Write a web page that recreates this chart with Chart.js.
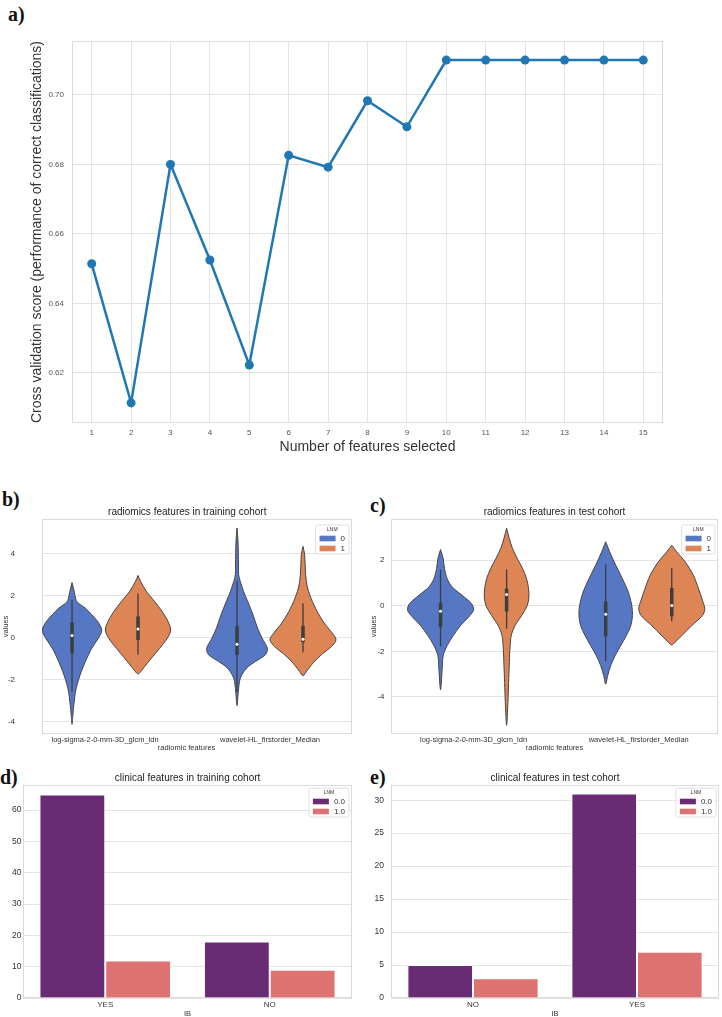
<!DOCTYPE html>
<html>
<head>
<meta charset="utf-8">
<title>Feature selection and feature distributions</title>
<script src="https://cdn.jsdelivr.net/npm/chart.js@4.4.1/dist/chart.umd.min.js"></script>
<style>
  html, body { margin: 0; padding: 0; background: #fff; overflow: hidden; }
  body { position: relative; width: 722px; height: 1017px; }
  canvas { position: absolute; }
  .tag { position: absolute; font: bold 20px/20px "Liberation Serif", "DejaVu Serif", serif; color: #111; }
</style>
</head>
<body>
<div class="tag" style="left:8px;top:4px">a)</div>
<div class="tag" style="left:2px;top:489px">b)</div>
<div class="tag" style="left:370px;top:495px">c)</div>
<div class="tag" style="left:0px;top:767px">d)</div>
<div class="tag" style="left:370px;top:767px">e)</div>

<canvas id="rfe" width="722" height="470" style="left:0;top:0"></canvas>
<canvas id="violinTrain" width="361" height="260" style="left:0;top:500px"></canvas>
<canvas id="violinTest" width="361" height="260" style="left:361px;top:500px"></canvas>
<canvas id="barTrain" width="361" height="255" style="left:0;top:770px"></canvas>
<canvas id="barTest" width="361" height="255" style="left:361px;top:770px"></canvas>

<script>
// a) recursive feature elimination curve
const featureCounts = ['1', '2', '3', '4', '5', '6', '7', '8', '9', '10', '11', '12', '13', '14', '15'];
const cvScores = [0.6514, 0.6114, 0.6800, 0.6525, 0.6223, 0.6826, 0.6792, 0.6983, 0.6908,
  0.7100, 0.7100, 0.7100, 0.7100, 0.7100, 0.7100];
const cvTicks = [0.62, 0.64, 0.66, 0.68, 0.70];

// b) c) violins: outline as [value, half width in category units], top to bottom
const radiomicFeatures = ['log-sigma-2-0-mm-3D_glcm_ldn', 'wavelet-HL_firstorder_Median'];
const lnmGroups = ['0', '1'];

const trainLdn0 = [[2.61, 0], [2.3, 0.010], [2.0, 0.018], [1.7, 0.030], [1.4, 0.080], [1.1, 0.118],
  [0.8, 0.152], [0.5, 0.175], [0.3, 0.180], [0.05, 0.166], [-0.3, 0.137], [-0.6, 0.113], [-1.0, 0.089],
  [-1.4, 0.067], [-1.8, 0.048], [-2.2, 0.032], [-2.6, 0.020], [-3.0, 0.014], [-3.4, 0.008], [-3.8, 0.004], [-4.12, 0]];
const trainLdn1 = [[2.95, 0], [2.66, 0.016], [2.19, 0.051], [1.71, 0.101], [1.24, 0.146], [0.76, 0.182],
  [0.36, 0.198], [-0.03, 0.178], [-0.51, 0.131], [-0.98, 0.081], [-1.38, 0.040], [-1.62, 0.016], [-1.73, 0]];
const trainMed0 = [[5.2, 0], [4.6, 0.006], [4.0, 0.008], [3.4, 0.009], [2.98, 0.010], [2.66, 0.020],
  [2.19, 0.040], [1.71, 0.065], [1.08, 0.097], [0.44, 0.125], [-0.03, 0.152], [-0.51, 0.184], [-0.82, 0.172],
  [-1.14, 0.111], [-1.46, 0.057], [-1.93, 0.020], [-2.57, 0.008], [-3.23, 0]];
const trainMed1 = [[4.33, 0], [3.93, 0.010], [2.98, 0.016], [2.35, 0.028], [1.71, 0.057], [1.08, 0.097],
  [0.6, 0.137], [0.21, 0.178], [-0.11, 0.200], [-0.43, 0.172], [-0.82, 0.111], [-1.3, 0.051], [-1.62, 0.020], [-1.81, 0]];

const testLdn0 = [[2.47, 0], [2.07, 0.016], [1.63, 0.024], [1.19, 0.040], [0.82, 0.071], [0.46, 0.131],
  [0.09, 0.188], [-0.18, 0.200], [-0.43, 0.178], [-0.87, 0.121], [-1.31, 0.077], [-1.75, 0.040],
  [-2.19, 0.016], [-2.78, 0.010], [-3.69, 0]];
const testLdn1 = [[3.4, 0], [2.96, 0.016], [2.51, 0.036], [2.07, 0.065], [1.63, 0.097], [1.19, 0.121],
  [0.75, 0.133], [0.38, 0.135], [0.01, 0.125], [-0.43, 0.091], [-0.87, 0.051], [-1.31, 0.028], [-1.9, 0.020],
  [-2.63, 0.016], [-3.37, 0.012], [-4.25, 0.008], [-5.25, 0]];
const testMed0 = [[2.81, 0], [2.37, 0.024], [1.78, 0.061], [1.19, 0.101], [0.6, 0.137], [0.01, 0.158],
  [-0.43, 0.162], [-0.87, 0.152], [-1.31, 0.125], [-1.75, 0.091], [-2.19, 0.057], [-2.63, 0.030],
  [-3.07, 0.012], [-3.44, 0]];
const testMed1 = [[2.66, 0], [2.37, 0.030], [1.93, 0.081], [1.34, 0.131], [0.75, 0.162], [0.24, 0.186],
  [-0.13, 0.200], [-0.43, 0.186], [-0.87, 0.121], [-1.31, 0.061], [-1.6, 0.020], [-1.72, 0]];

// inner box: [lower whisker, q1, median, q3, upper whisker]
const trainBoxes = [[-2.57, -0.75, 0.1, 0.73, 1.79], [-0.82, -0.11, 0.41, 1.0, 2.09],
  [-2.6, -0.82, -0.32, 0.55, 2.7], [-0.7, -0.22, -0.08, 0.56, 1.63]];
const testBoxes = [[-1.79, -0.94, -0.24, 0.13, 1.59], [-1.01, -0.25, 0.49, 0.75, 1.6],
  [-2.44, -1.34, -0.37, 0.19, 1.81], [-0.69, -0.46, 0.01, 0.78, 1.66]];
const trainValueTicks = [-4, -2, 0, 2, 4];
const testValueTicks = [-4, -2, 0, 2];

// d) e) counts of IB by LNM
const lnmLevels = ['0.0', '1.0'];
const trainIB = ['YES', 'NO'];
const trainLnm0 = [65, 18];
const trainLnm1 = [12, 9];
const testIB = ['NO', 'YES'];
const testLnm0 = [5, 31];
const testLnm1 = [3, 7];
const trainCountTicks = [0, 10, 20, 30, 40, 50, 60];
const testCountTicks = [0, 5, 10, 15, 20, 25, 30];

const F = '"Liberation Sans", Arial, sans-serif';
const GRID = '#e4e4e4';
const LINE = '#1f77b4';
const BLUE = '#5577c4';
const ORANGE = '#dd8555';
const PURPLE = '#6a2b75';
const SALMON = '#de7270';
const NB = n => '\u00a0'.repeat(n);   // shifts a centred title a little to the left

Chart.defaults.font.family = F;
Chart.defaults.animation = false;
Chart.defaults.plugins.legend.display = false;
Chart.defaults.plugins.tooltip.enabled = false;

// light grey box round the plot, like seaborn whitegrid spines
const frame = {
  id: 'frame',
  beforeDatasetsDraw(chart) {
    const { ctx, chartArea: a } = chart;
    ctx.save();
    ctx.strokeStyle = '#dadada';
    ctx.lineWidth = 1;
    ctx.strokeRect(Math.round(a.left) + 0.5, Math.round(a.top) + 0.5, Math.round(a.width) - 1, Math.round(a.height) - 1);
    ctx.restore();
  }
};

// small "LNM" legend in the top right corner
const lnmLegend = {
  id: 'lnmLegend',
  afterDraw(chart, args, opts) {
    if (!opts.names) return;
    const { ctx, chartArea } = chart;
    ctx.save();
    ctx.font = '8px ' + F;
    const lw = Math.max(...opts.names.map(t => ctx.measureText(t).width));
    const w = 4 + 16 + 5 + lw + 4, h = 29;
    const x = chartArea.right - 3 - w, y = chartArea.top + opts.top;
    ctx.fillStyle = 'rgba(255,255,255,0.85)';
    ctx.strokeStyle = '#d8d8d8';
    ctx.lineWidth = 0.8;
    ctx.beginPath();
    ctx.roundRect(x, y, w, h, 2);
    ctx.fill();
    ctx.stroke();
    ctx.fillStyle = '#333';
    ctx.textAlign = 'center';
    ctx.textBaseline = 'middle';
    ctx.font = '5px ' + F;
    ctx.fillText('LNM', x + w / 2, y + 4.5);
    ctx.font = '8px ' + F;
    ctx.textAlign = 'left';
    opts.names.forEach((t, i) => {
      const cy = y + 13.5 + i * 10;
      ctx.fillStyle = opts.fills[i];
      ctx.fillRect(x + 4, cy - 2.8, 16, 5.6);
      ctx.fillStyle = '#333';
      ctx.fillText(t, x + 25, cy);
    });
    ctx.restore();
  }
};
Chart.register(frame, lnmLegend);

// ---- a) ----
new Chart(document.getElementById('rfe'), {
  type: 'line',
  data: {
    labels: featureCounts,
    datasets: [{
      data: cvScores,
      borderColor: LINE,
      backgroundColor: LINE,
      borderWidth: 2.5,
      pointRadius: 4.5,
      pointBorderWidth: 0,
      pointBackgroundColor: LINE,
      tension: 0
    }]
  },
  options: {
    responsive: false,
    layout: { padding: { top: 41, right: 59, left: 0, bottom: 0 } },
    scales: {
      x: {
        offset: true,
        grid: { color: GRID, offset: false, drawTicks: false },
        border: { display: false },
        ticks: { color: '#555', font: { size: 8 }, padding: 5 },
        title: { display: true, text: 'Number of features selected', color: '#333', font: { size: 14 }, padding: { top: 0, bottom: 14.6 } },
        afterFit: s => { s.height = 47; }
      },
      y: {
        min: 0.6056,
        max: 0.7155,
        afterBuildTicks: s => { s.ticks = cvTicks.map(v => ({ value: v })); },
        grid: { color: GRID, drawTicks: false },
        border: { display: false },
        ticks: { color: '#555', font: { size: 8 }, padding: 8, callback: v => v.toFixed(2) },
        title: {
          display: true,
          text: 'Cross validation score (performance of correct classifications)',
          color: '#333', font: { size: 14 }, padding: { top: 28.6, bottom: 0 }
        },
        afterFit: s => { s.width = 72; }
      }
    }
  }
});

// ---- b) c) ----
function outline(profile, center) {
  const right = profile.map(([v, w]) => ({ x: center + w, y: v }));
  const left = profile.slice().reverse().map(([v, w]) => ({ x: center - w, y: v }));
  return right.concat(left.slice(1));
}

function violinDatasets(profiles, boxes) {
  const sets = [];
  profiles.forEach((p, i) => {
    const center = Math.floor(i / 2) + (i % 2 ? 0.2 : -0.2);
    const b = boxes[i];
    sets.push({ data: outline(p, center), fill: 'shape', backgroundColor: i % 2 ? ORANGE : BLUE,
      borderColor: '#444', borderWidth: 1, pointRadius: 0, tension: 0.3, order: 3 });
    sets.push({ data: [{ x: center, y: b[0] }, { x: center, y: b[4] }], borderColor: '#3d3d3d',
      borderWidth: 1.3, pointRadius: 0, order: 2 });
    sets.push({ data: [{ x: center, y: b[1] }, { x: center, y: b[3] }], borderColor: '#3d3d3d',
      borderWidth: 3.5, pointRadius: 0, order: 1 });
    sets.push({ data: [{ x: center, y: b[2] }], showLine: false, pointRadius: 1.5,
      pointBackgroundColor: '#fff', pointBorderWidth: 0, order: 0 });
  });
  return sets;
}

function violinChart(id, cfg) {
  const valueTicks = s => { s.ticks = cfg.yTicks.map(v => ({ value: v })); };
  const yLabels = {
    ticks: { color: '#333', font: { size: 8 }, padding: cfg.tickPad },
    title: { display: true, text: 'values', color: '#333', font: { size: 7.5 }, padding: { top: cfg.yTitlePad, bottom: 0 } }
  };
  const scales = {
    x: {
      type: 'linear',
      min: cfg.xMin,
      max: cfg.xMax,
      afterBuildTicks: s => { s.ticks = [{ value: 0 }, { value: 1 }]; },
      grid: { display: false, drawTicks: false },
      border: { display: false },
      ticks: { color: '#333', font: { size: 7.5 }, padding: 1.5, maxRotation: 0, autoSkip: false,
        callback: v => radiomicFeatures[v] },
      title: { display: true, text: cfg.xTitle, color: '#333', font: { size: 7.5 }, padding: { top: 0, bottom: 7.5 } },
      afterFit: s => { s.height = 26; }
    },
    y: {
      min: cfg.yMin,
      max: cfg.yMax,
      afterBuildTicks: valueTicks,
      grid: { color: GRID, drawTicks: false },
      border: { display: false },
      afterFit: s => { s.width = cfg.yAxisW; }
    }
  };
  if (cfg.labelAxisW) {
    // tick labels sit well away from the plot: carry them on an outer axis
    scales.y.ticks = { display: false };
    scales.yl = Object.assign({
      position: 'left', weight: 1, min: cfg.yMin, max: cfg.yMax,
      afterBuildTicks: valueTicks,
      grid: { display: false, drawTicks: false },
      border: { display: false },
      afterFit: s => { s.width = cfg.labelAxisW; }
    }, yLabels);
  } else {
    Object.assign(scales.y, yLabels);
  }
  new Chart(document.getElementById(id), {
    type: 'line',
    data: { datasets: violinDatasets(cfg.profiles, cfg.boxes) },
    options: {
      responsive: false,
      layout: { padding: { left: 0, right: cfg.padR, top: 0, bottom: 0 } },
      plugins: {
        title: { display: true, text: cfg.title, color: '#222', font: { size: 10, weight: 'normal' },
          padding: { top: 6, bottom: 1 }, fullSize: false },
        lnmLegend: { names: lnmGroups, fills: [BLUE, ORANGE], top: 6 }
      },
      scales
    }
  });
}

violinChart('violinTrain', {
  profiles: [trainLdn0, trainLdn1, trainMed0, trainMed1], boxes: trainBoxes,
  title: 'radiomics features in training cohort' + NB(7),
  xTitle: 'radiomic features' + NB(10),
  xMin: -0.382, xMax: 1.497, yMin: -4.58, yMax: 5.63, yTicks: trainValueTicks,
  padR: 9, yAxisW: 26, labelAxisW: 16, tickPad: 1, yTitlePad: 1
});

violinChart('violinTest', {
  profiles: [testLdn0, testLdn1, testMed0, testMed1], boxes: testBoxes,
  title: 'radiomics features in test cohort',
  xTitle: 'radiomic features',
  xMin: -0.5, xMax: 1.48, yMin: -5.63, yMax: 3.81, yTicks: testValueTicks,
  padR: 4, yAxisW: 30, tickPad: 6.5, yTitlePad: 8
});

// ---- d) e) ----
function barChart(id, cfg) {
  new Chart(document.getElementById(id), {
    type: 'bar',
    data: {
      labels: cfg.labels,
      datasets: [
        { label: lnmLevels[0], data: cfg.lnm0, backgroundColor: PURPLE, borderColor: '#fff', borderWidth: 1,
          categoryPercentage: 0.8, barPercentage: 1 },
        { label: lnmLevels[1], data: cfg.lnm1, backgroundColor: SALMON, borderColor: '#fff', borderWidth: 1,
          categoryPercentage: 0.8, barPercentage: 1 }
      ]
    },
    options: {
      responsive: false,
      layout: { padding: { left: 0, right: cfg.padR, top: 0, bottom: 0 } },
      plugins: {
        title: { display: true, text: cfg.title, color: '#222', font: { size: 10, weight: 'normal' },
          padding: { top: 2, bottom: 1 }, fullSize: false },
        lnmLegend: { names: lnmLevels, fills: [PURPLE, SALMON], top: 3 }
      },
      scales: {
        x: {
          grid: { display: false, drawTicks: false },
          border: { display: false },
          ticks: { color: '#333', font: { size: 8 }, padding: 2.2 },
          title: { display: true, text: 'IB', color: '#333', font: { size: 7.5 }, padding: { top: 0, bottom: 6.5 } },
          afterFit: s => { s.height = 27; }
        },
        y: {
          min: 0,
          max: cfg.yMax,
          afterBuildTicks: s => { s.ticks = cfg.yTicks.map(v => ({ value: v })); },
          grid: { color: GRID, drawTicks: false },
          border: { display: false },
          ticks: { color: '#333', font: { size: 8.5 }, padding: cfg.tickPad },
          afterFit: s => { s.width = cfg.yAxisW; }
        }
      }
    }
  });
}

barChart('barTrain', {
  labels: trainIB, lnm0: trainLnm0, lnm1: trainLnm1, title: 'clinical features in training cohort',
  yMax: 68, yTicks: trainCountTicks, padR: 9, yAxisW: 23, tickPad: 1.5
});

barChart('barTest', {
  labels: testIB, lnm0: testLnm0, lnm1: testLnm1, title: 'clinical features in test cohort',
  yMax: 32.3, yTicks: testCountTicks, padR: 3, yAxisW: 30, tickPad: 7
});
</script>
</body>
</html>
